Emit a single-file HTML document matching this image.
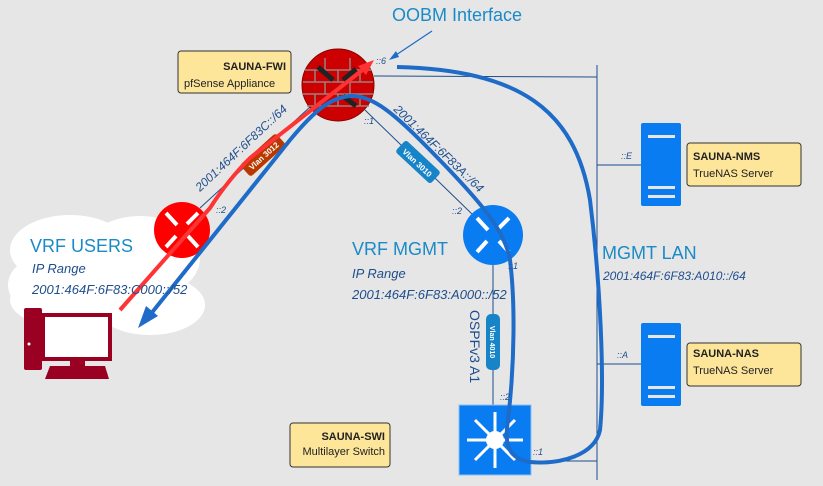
<!DOCTYPE html>
<html><head><meta charset="utf-8"><style>
html,body{margin:0;padding:0;background:#e6e6e6;}
svg{display:block;font-family:"Liberation Sans",sans-serif;}
</style></head><body>
<svg width="823" height="486" viewBox="0 0 823 486" xmlns="http://www.w3.org/2000/svg">
<rect width="823" height="486" fill="#e6e6e6"/>
<!-- cloud -->
<g fill="#fff">
<ellipse cx="70" cy="250" rx="60" ry="35"/>
<ellipse cx="140" cy="258" rx="60" ry="42"/>
<ellipse cx="80" cy="300" rx="70" ry="30"/>
<ellipse cx="150" cy="305" rx="55" ry="30"/>
<ellipse cx="40" cy="285" rx="32" ry="27"/>
</g>
<!-- thin links -->
<g stroke="#1f4e8c" stroke-width="1" fill="none">
<line x1="200" y1="208" x2="310" y2="107"/>
<line x1="365" y1="110" x2="473" y2="215"/>
<line x1="493" y1="265" x2="493" y2="405"/>
<line x1="374" y1="76" x2="597" y2="77"/>
<line x1="597" y1="65" x2="597" y2="480"/>
<line x1="531" y1="461" x2="597" y2="461"/>
<line x1="597" y1="165" x2="641" y2="165"/>
<line x1="597" y1="364" x2="641" y2="364"/>
</g>
<!-- firewall -->
<circle cx="338" cy="85" r="36" fill="#cc0000" stroke="#8a0000"/>
<g stroke="#9a8080" stroke-width="1.5">
<line x1="305" y1="70" x2="371" y2="70"/><line x1="303" y1="82" x2="373" y2="82"/><line x1="303" y1="94" x2="373" y2="94"/><line x1="307" y1="106" x2="369" y2="106"/>
<line x1="325" y1="58" x2="325" y2="70"/><line x1="350" y1="58" x2="350" y2="70"/><line x1="315" y1="70" x2="315" y2="82"/><line x1="338" y1="70" x2="338" y2="82"/><line x1="360" y1="70" x2="360" y2="82"/>
<line x1="325" y1="82" x2="325" y2="94"/><line x1="350" y1="82" x2="350" y2="94"/><line x1="315" y1="94" x2="315" y2="106"/><line x1="338" y1="94" x2="338" y2="106"/><line x1="360" y1="94" x2="360" y2="106"/>
</g>
<g stroke="#222" stroke-width="5"><line x1="318" y1="67" x2="333" y2="80"/><line x1="343" y1="80" x2="356" y2="69"/><line x1="343" y1="96" x2="356" y2="106"/></g>
<!-- red router -->
<circle cx="182" cy="230" r="28" fill="#ff0000"/>
<g stroke="#fff" stroke-width="4"><line x1="166" y1="213" x2="177" y2="225"/><line x1="187" y1="224" x2="198" y2="213"/><line x1="176" y1="236" x2="166" y2="247"/><line x1="188" y1="236" x2="198" y2="247"/></g>
<!-- blue router -->
<circle cx="493" cy="235" r="30" fill="#0a7cf2"/>
<g stroke="#fff" stroke-width="4"><line x1="477" y1="218" x2="488" y2="230"/><line x1="498" y1="229" x2="509" y2="218"/><line x1="487" y1="241" x2="477" y2="252"/><line x1="499" y1="241" x2="509" y2="252"/></g>
<!-- switch -->
<rect x="459" y="405" width="72" height="70" fill="#0a7cf2" stroke="#8cc0f8"/>
<circle cx="495" cy="440" r="9" fill="#fff"/>
<g stroke="#fff" stroke-width="3"><line x1="495" y1="412" x2="495" y2="468"/><line x1="467" y1="440" x2="523" y2="440"/><line x1="475" y1="420" x2="515" y2="460"/><line x1="515" y1="420" x2="475" y2="460"/></g>
<!-- servers -->
<rect x="641" y="123" width="40" height="83" rx="2" fill="#0a7cf2"/>
<g fill="#e6e6e6"><rect x="648" y="135" width="27" height="3"/><rect x="648" y="186" width="27" height="3"/><rect x="648" y="195" width="27" height="3"/></g>
<rect x="641" y="323" width="40" height="83" rx="2" fill="#0a7cf2"/>
<g fill="#e6e6e6"><rect x="648" y="335" width="27" height="3"/><rect x="648" y="386" width="27" height="3"/><rect x="648" y="395" width="27" height="3"/></g>
<!-- PC -->
<rect x="24" y="308" width="18" height="62" rx="2" fill="#9a0022"/>
<rect x="42" y="313" width="70" height="48" fill="#9a0022"/>
<rect x="45" y="317" width="63" height="40" fill="#fff"/>
<rect x="70" y="361" width="15" height="6" fill="#9a0022"/>
<polygon points="50,366 105,366 109,379 45,379" fill="#9a0022"/>
<circle cx="29" cy="344" r="1.5" fill="#fff"/>
<!-- vlan tags -->
<g transform="translate(263,155) rotate(-42)"><rect x="-24" y="-8" width="48" height="16" rx="3" fill="#b83800"/><text x="0" y="4" font-size="8" fill="#fff" text-anchor="middle" font-weight="bold">Vlan 3012</text></g>
<g transform="translate(418,162) rotate(43)"><rect x="-24" y="-8" width="48" height="16" rx="3" fill="#1784c8"/><text x="0" y="4" font-size="8" fill="#fff" text-anchor="middle" font-weight="bold">Vlan 3010</text></g>
<g transform="translate(493,342) rotate(90)"><rect x="-28" y="-7" width="56" height="14" rx="5" fill="#1784c8"/><text x="0" y="3" font-size="7" fill="#fff" text-anchor="middle" font-weight="bold">Vlan 4010</text></g>
<!-- red flow -->
<path d="M120,310 L210,208 Q228,180 250,158 L365,68" stroke="#ff3333" stroke-width="4" fill="none"/>
<polygon points="374,60 358,66 366,75" fill="#ff3333"/>
<!-- blue flow -->
<path d="M397,67 C520,70 575,110 590,200 C600,280 605,380 600,430 C595,455 560,465 530,462 C505,458 505,440 508,420 C515,360 515,300 510,260 C505,230 480,200 420,140 C390,110 370,95 350,96 C330,98 315,110 290,140 L150,315" stroke="#1e6bc8" stroke-width="4" fill="none"/>
<polygon points="138,328 146,306 158,316" fill="#1e6bc8"/>
<!-- OOBM arrow -->
<line x1="432" y1="31" x2="393" y2="57" stroke="#1e6bc8" stroke-width="1.2"/>
<polygon points="389,60 396,51 399,57" fill="#1e6bc8"/>
<!-- note boxes -->
<g fill="#fde59a" stroke="#333" stroke-width="1">
<rect x="178" y="51" width="113" height="42" rx="3"/>
<rect x="687" y="143" width="114" height="43" rx="3"/>
<rect x="687" y="343" width="114" height="43" rx="3"/>
<rect x="290" y="423" width="100" height="44" rx="3"/>
</g>
<g font-size="11" fill="#222">
<text x="286" y="70" text-anchor="end" font-weight="bold">SAUNA-FWI</text>
<text x="184" y="87">pfSense Appliance</text>
<text x="693" y="160" font-weight="bold">SAUNA-NMS</text>
<text x="693" y="177">TrueNAS Server</text>
<text x="693" y="357" font-weight="bold">SAUNA-NAS</text>
<text x="693" y="374">TrueNAS Server</text>
<text x="385" y="440" text-anchor="end" font-weight="bold">SAUNA-SWI</text>
<text x="385" y="455" text-anchor="end">Multilayer Switch</text>
</g>
<!-- titles -->
<text x="392" y="21" font-size="18" fill="#1a8ac8">OOBM Interface</text>
<text x="30" y="252" font-size="18" fill="#1a8ac8">VRF USERS</text>
<text x="352" y="255" font-size="18" fill="#1a8ac8">VRF MGMT</text>
<text x="602" y="259" font-size="18" fill="#1a8ac8">MGMT LAN</text>
<g font-size="13" fill="#1f4e8c" font-style="italic">
<text x="32" y="273">IP Range</text>
<text x="32" y="294">2001:464F:6F83:C000::/52</text>
<text x="352" y="278">IP Range</text>
<text x="352" y="299">2001:464F:6F83:A000::/52</text>
<text x="603" y="280" font-size="12">2001:464F:6F83:A010::/64</text>
<text transform="translate(200,192) rotate(-43)" font-size="12">2001:464F:6F83C::/64</text>
<text transform="translate(393,110) rotate(44)" font-size="12">2001:464F:6F83A::/64</text>
</g>
<text transform="translate(470,310) rotate(90)" font-size="14" fill="#1f4e8c">OSPFv3 A1</text>
<g font-size="9" fill="#1f4e8c" font-style="italic">
<text x="376" y="64">::6</text>
<text x="364" y="124">::1</text>
<text x="216" y="213">::2</text>
<text x="452" y="214">::2</text>
<text x="508" y="269">::1</text>
<text x="500" y="400">::2</text>
<text x="533" y="455">::1</text>
<text x="621" y="159">::E</text>
<text x="617" y="358">::A</text>
</g>
</svg>
</body></html>
